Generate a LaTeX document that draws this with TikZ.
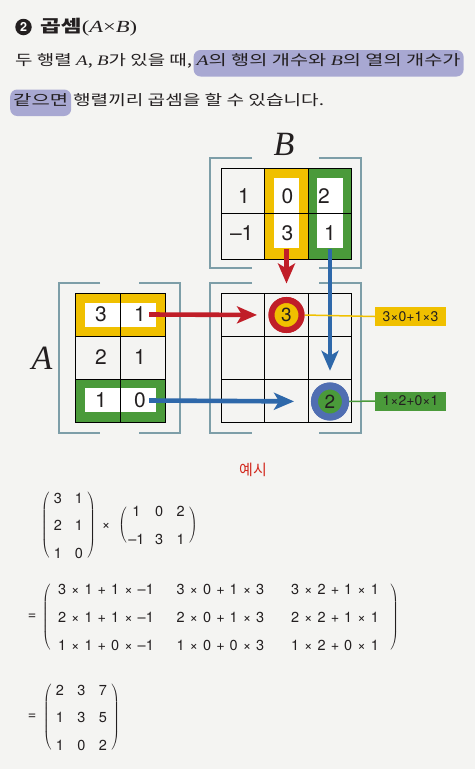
\documentclass[tikz,border=0pt]{standalone}
\usepackage{graphicx}
\usepackage{fontspec}
\setmainfont{TeX Gyre Heros}
\newfontfamily\kr{Noto Sans CJK KR}
\newfontfamily\ser{Liberation Serif}
\usetikzlibrary{positioning,matrix,arrows.meta}

\definecolor{bg}{RGB}{244,244,242}
\definecolor{ink}{RGB}{35,31,32}
\definecolor{lav}{RGB}{168,168,210}
\definecolor{yel}{RGB}{240,192,0}
\definecolor{grn}{RGB}{74,154,58}
\definecolor{redc}{RGB}{192,30,40}
\definecolor{blu}{RGB}{46,104,170}
\definecolor{ring}{RGB}{80,110,178}
\definecolor{brkc}{RGB}{125,158,168}
\definecolor{exred}{RGB}{210,40,30}

\newcommand\va[1]{{\ser\itshape #1}}
\newcommand\fitw[2]{\resizebox{#1}{\height}{#2}}
\newcommand\eqf{\fontsize{14.5}{17}\selectfont}
\newcommand\opx{\hspace{5pt}×\hspace{5pt}}
\newcommand\opp{\hspace{5pt}+\hspace{5pt}}

\begin{document}
\begin{tikzpicture}
  [x=1pt,y=-1pt,every node/.style={text=ink},
   txt/.style={font=\fontsize{14.5}{17}\selectfont\kr,inner sep=0pt},
   hl/.style={fill=lav,rounded corners=7pt,inner xsep=3pt,inner ysep=0pt,text height=15.5pt,text depth=11pt},
   num/.style={font=\fontsize{21}{21}\selectfont,inner sep=3pt},
   brk/.style={draw=brkc,line width=2.6pt},
   gridline/.style={draw=black,line width=0.9pt},
   hole/.style={fill=white,inner sep=0pt},
   rarrow/.style={draw=redc,line width=4.6pt,-{Stealth[length=20pt,width=17pt,inset=5pt]}},
   barrow/.style={draw=blu,line width=4.6pt,-{Stealth[length=20pt,width=17pt,inset=5pt]}},
   tag/.style={font=\fontsize{14}{14}\selectfont,minimum width=71pt,minimum height=19pt,inner sep=0pt},
   eqm/.style={matrix of nodes,left delimiter=(,right delimiter=),inner sep=0pt,
     every delimiter/.style={inner xsep=1pt},
     nodes={font=\eqf,inner sep=0pt,text height=10.4pt,text depth=0pt,minimum width=14pt},
     row sep=17.1pt,column sep=7pt}]

  \fill[bg] (0,0) rectangle (475,769);
  \useasboundingbox (0,0) rectangle (475,769);

  % title and text
  \node[circle,fill=ink,text=white,minimum size=16.5pt,inner sep=0pt,
    font=\fontsize{12.5}{12.5}\selectfont\bfseries] (no) at (23.5,27) {2};
  \node[anchor=base west,inner sep=0pt,font=\fontsize{17}{20}\selectfont] (ttl) at (40,32)
    {\fitw{97pt}{{\kr\bfseries 곱셈}{\ser(\textit{A}×\textit{B})}}};
  \node[txt,anchor=base west] (l2a) at (15,65.5) {\fitw{177pt}{두 행렬 \va{A}, \va{B}가 있을 때,}};
  \node[txt,hl,base right=1pt of l2a] (l2b) {\fitw{264pt}{\va{A}의 행의 개수와 \va{B}의 열의 개수가}};
  \node[txt,hl,anchor=base west] (l3a) at (10,105) {\fitw{55pt}{같으면}};
  \node[txt,base right=1.5pt of l3a] (l3b) {\fitw{251pt}{행렬끼리 곱셈을 할 수 있습니다.}};

  % coloured frames
  \fill[yel] (75,293) rectangle (165,336);
  \fill[white] (85,303.3) rectangle (156,326.7);
  \fill[grn] (75,379) rectangle (165,422);
  \fill[white] (85,387.7) rectangle (156,411.7);
  \fill[yel] (264.75,168) rectangle (308.25,259);
  \fill[grn] (308.25,168) rectangle (351.75,259);
  \node[hole,minimum width=25pt,minimum height=70pt] (wy) at (286.5,213.3) {};
  \node[hole,minimum width=26.5pt,minimum height=70pt] (wg) at (330,213.3) {};

  % grids
  \foreach \r in {0,1,2}
    \foreach \c in {0,1} \draw[gridline] (75+45*\c,293+43*\r) rectangle ++(45,43);
  \foreach \r in {0,1}
    \foreach \c in {0,1,2} \draw[gridline] (221.25+43.5*\c,168+45.5*\r) rectangle ++(43.5,45.5);
  \foreach \r in {0,1,2}
    \foreach \c in {0,1,2} \draw[gridline] (221.25+43.5*\c,293+43*\r) rectangle ++(43.5,43);

  % brackets
  \draw[brk] (100,283) -- (59,283) -- (59,433) -- (100,433);
  \draw[brk] (139,283) -- (180,283) -- (180,433) -- (139,433);
  \draw[brk] (252,158) -- (210,158) -- (210,268) -- (252,268);
  \draw[brk] (319,158) -- (361,158) -- (361,268) -- (319,268);
  \draw[brk] (252,283) -- (210,283) -- (210,433) -- (252,433);
  \draw[brk] (319,283) -- (361,283) -- (361,433) -- (319,433);

  \node[font=\fontsize{34}{34}\selectfont\ser\itshape] (nA) at (42,358) {A};
  \node[font=\fontsize{34}{34}\selectfont\ser\itshape] (nB) at (284,144) {B};

  % entries
  \node[num] (a11) at (101,314.5) {3};
  \node[num] (a12) at (140,314.5) {1};
  \node[num] (a21) at (101,357.5) {2};
  \node[num] (a22) at (140,357.5) {1};
  \node[num] (a31) at (101,400.5) {1};
  \node[num] (a32) at (140,400.5) {0};
  \node[num] (b11) at (244,196) {1};
  \node[num] (b12) at (287.5,196) {0};
  \node[num] (b13) at (324,196) {2};
  \node[num] (b21) at (241.7,233) {–1};
  \node[num] (b22) at (287.5,233) {3};
  \node[num] (b23) at (330,233) {1};

  \node[circle,fill=yel,draw=redc,line width=6pt,minimum size=30pt,inner sep=0pt] (c12) at (286.5,315) {};
  \node[circle,fill=grn,draw=ring,line width=7pt,minimum size=31pt,inner sep=0pt] (c33) at (330,401.5) {};
  \node[tag,fill=yel] (t1) at (410.5,316.5) {3×0+1×3};
  \node[tag,fill=grn] (t2) at (410.5,401) {1×2+0×1};

  \draw[rarrow,shorten >=11.5pt] (a12.east) -- (c12.west);
  \draw[rarrow,shorten >=13.5pt] (wy.south) -- (c12.north);
  \draw[barrow,shorten >=11.7pt] (wg.south) -- (c33.north);
  \draw[barrow,shorten >=17pt] (a32.east) -- (c33.west);
  \draw[yel,line width=1.5pt] (c12.east) -- (t1.west);
  \draw[grn,line width=1.5pt] (c33.east) -- (t2.west);

  \node[circle,fill=yel,draw=redc,line width=6pt,minimum size=30pt,inner sep=0pt,
    font=\fontsize{19}{19}\selectfont] at (c12) {3};
  \node[circle,fill=grn,draw=ring,line width=7pt,minimum size=31pt,inner sep=0pt,
    font=\fontsize{19}{19}\selectfont] at (c33) {2};

  % example
  \node[font=\fontsize{15}{15}\selectfont\kr,text=exred] (ex) at (253,470) {예시};
  \matrix (mA) [eqm] at (68.5,525.5) {3 & 1\\ 2 & 1\\ 1 & 0\\};
  \node[font=\eqf] (tm) at (106,526) {×};
  \matrix (mB) [eqm,row sep=17.2pt,column sep=7.6pt] at (158,525.5) {1 & 0 & 2\\ –1 & 3 & 1\\};
  \node[font=\eqf] (eq1) at (32,617) {=};
  \matrix (mC) [eqm,inner xsep=5pt,nodes={minimum width=98pt},column sep=16.5pt,row sep=17.6pt] at (220.5,617.5)
  {3\opx1\opp1\opx–1 & 3\opx0\opp1\opx3 & 3\opx2\opp1\opx1\\
   2\opx1\opp1\opx–1 & 2\opx0\opp1\opx3 & 2\opx2\opp1\opx1\\
   1\opx1\opp0\opx–1 & 1\opx0\opp0\opx3 & 1\opx2\opp0\opx1\\};
  \node[font=\eqf] (eq2) at (32,717) {=};
  \matrix (mD) [eqm,column sep=7.5pt] at (81.5,717.5) {2 & 3 & 7\\ 1 & 3 & 5\\ 1 & 0 & 2\\};
\end{tikzpicture}
\end{document}
